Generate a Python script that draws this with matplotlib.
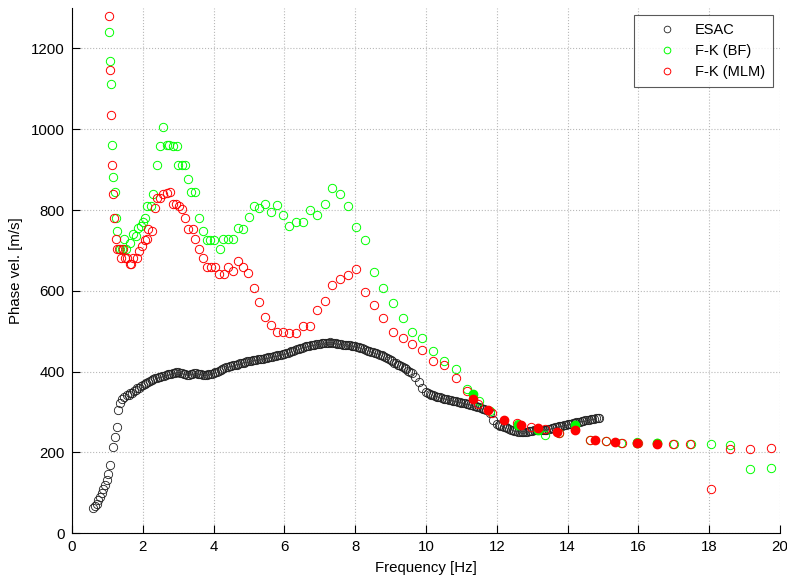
import matplotlib
matplotlib.use("Agg")
from matplotlib import pyplot as plt

# ESAC dispersion curve
esac_freq = [0.58, 0.65, 0.70, 0.74, 0.79, 0.84, 0.88, 0.93, 0.98, 1.03,
             1.07, 1.15, 1.21, 1.26, 1.31, 1.36, 1.40, 1.46, 1.54, 1.60,
             1.7, 1.8, 1.9, 2.0, 2.1, 2.2, 2.3, 2.4, 2.5, 2.6,
             2.7, 2.8, 2.9, 3.0, 3.1, 3.2, 3.3, 3.4, 3.5, 3.6,
             3.7, 3.8, 3.9, 4.0, 4.1, 4.2, 4.3, 4.4, 4.5, 4.6,
             4.7, 4.8, 4.9, 5.0, 5.1, 5.2, 5.3, 5.4, 5.5, 5.6,
             5.7, 5.8, 5.9, 6.0, 6.1, 6.2, 6.3, 6.4, 6.5, 6.6,
             6.7, 6.8, 6.9, 7.0, 7.1, 7.2, 7.3, 7.4, 7.5, 7.6,
             7.7, 7.8, 7.9, 8.0, 8.1, 8.2, 8.3, 8.4, 8.5, 8.6,
             8.7, 8.8, 8.9, 9.0, 9.1, 9.2, 9.3, 9.4, 9.5, 9.6,
             9.7, 9.8, 9.9, 10.0, 10.1, 10.2, 10.3, 10.4, 10.5, 10.6,
             10.7, 10.8, 10.9, 11.0, 11.1, 11.2, 11.3, 11.4, 11.5, 11.6,
             11.7, 11.8, 11.9, 12.0, 12.1, 12.2, 12.3, 12.4, 12.5, 12.6,
             12.7, 12.8, 12.9, 13.0, 13.1, 13.2, 13.3, 13.4, 13.5, 13.6,
             13.7, 13.8, 13.9, 14.0, 14.1, 14.2, 14.3, 14.4, 14.5, 14.6,
             14.7, 14.8, 14.9]
esac_vel = [61, 67, 73, 81, 90, 98, 108, 119, 131, 147,
            168, 213, 238, 262, 305, 322, 331, 337, 341, 343,
            348, 355, 360, 366, 372, 377, 381, 384, 387, 390,
            393, 395, 397, 398, 396, 393, 392, 395, 396, 394,
            392, 392, 393, 396, 400, 404, 408, 412, 414, 416,
            419, 421, 423, 426, 428, 429, 430, 432, 434, 436,
            438, 440, 442, 444, 447, 450, 453, 456, 459, 462,
            464, 466, 467, 469, 470, 471, 472, 471, 469, 467,
            466, 465, 464, 463, 460, 457, 454, 451, 448, 445,
            442, 438, 433, 428, 422, 417, 413, 408, 402, 396,
            386, 374, 360, 350, 345, 341, 338, 336, 333, 331,
            329, 327, 325, 323, 321, 319, 317, 314, 311, 308,
            304, 298, 280, 270, 266, 263, 261, 256, 253, 251,
            250, 251, 252, 253, 254, 255, 254, 256, 258, 261,
            263, 265, 267, 269, 271, 273, 275, 277, 279, 281,
            283, 284, 285]

# extra ESAC picks between the ones above (the curve is sampled densely)
esac_freq2 = [1.65, 1.75, 1.85, 1.95, 2.05, 2.15, 2.25, 2.35, 2.45, 2.55,
              2.65, 2.75, 2.85, 2.95, 3.05, 3.15, 3.25, 3.35, 3.45, 3.55,
              3.65, 3.75, 3.85, 3.95, 4.05, 4.15, 4.25, 4.35, 4.45, 4.55,
              4.65, 4.75, 4.85, 4.95, 5.05, 5.15, 5.25, 5.35, 5.45, 5.55,
              5.65, 5.75, 5.85, 5.95, 6.05, 6.15, 6.25, 6.35, 6.45, 6.55,
              6.65, 6.75, 6.85, 6.95, 7.05, 7.15, 7.25, 7.35, 7.45, 7.55,
              7.65, 7.75, 7.85, 7.95, 8.05, 8.15, 8.25, 8.35, 8.45, 8.55,
              8.65, 8.75, 8.85, 8.95, 9.05, 9.15, 9.25, 9.35, 9.45, 9.55,
              10.05, 10.15, 10.25, 10.35, 10.45, 10.55, 10.65, 10.75, 10.85, 10.95,
              11.05, 11.15, 11.25, 11.35, 11.45, 11.55, 11.65, 12.05, 12.15, 12.25,
              12.35, 12.45, 12.55, 12.65, 12.75, 12.85, 12.95, 13.05, 13.15, 13.25,
              13.35, 13.45, 13.55, 13.65, 13.75, 13.85, 13.95, 14.05, 14.15, 14.25,
              14.35, 14.45, 14.55, 14.65, 14.75, 14.85]
esac_vel2 = [346, 351, 358, 363, 369, 375, 379, 383, 386, 389,
             392, 394, 396, 398, 397, 394, 391, 394, 396, 395,
             393, 391, 393, 394, 398, 402, 406, 410, 413, 415,
             417, 420, 422, 425, 427, 428, 430, 431, 433, 435,
             437, 439, 441, 443, 445, 449, 452, 455, 458, 460,
             463, 465, 466, 468, 470, 470, 471, 471, 470, 468,
             466, 465, 465, 463, 461, 459, 455, 452, 449, 447,
             443, 440, 435, 430, 425, 420, 415, 410, 405, 399,
             347, 343, 339, 337, 334, 332, 330, 328, 326, 324,
             322, 320, 318, 315, 312, 309, 306, 268, 264, 262,
             258, 254, 252, 250, 250, 251, 252, 254, 254, 255,
             255, 257, 259, 262, 264, 266, 268, 270, 272, 274,
             276, 278, 280, 282, 283, 285]

# F-K (BF)
bf_freq = [1.045, 1.07, 1.10, 1.14, 1.17, 1.21, 1.23, 1.28, 1.36, 1.42,
           1.48, 1.53, 1.64, 1.73, 1.80, 1.87, 1.94, 2.00, 2.06, 2.13,
           2.22, 2.30, 2.39, 2.49, 2.58, 2.67, 2.75, 2.86, 2.96, 3.00,
           3.10, 3.19, 3.27, 3.36, 3.47, 3.60, 3.69, 3.80, 3.90, 4.01,
           4.18, 4.27, 4.42, 4.56, 4.70, 4.84, 5.00, 5.14, 5.29, 5.45,
           5.61, 5.80, 5.97, 6.14, 6.33, 6.52, 6.72, 6.91, 7.14, 7.34,
           7.57, 7.80, 8.02, 8.28, 8.53, 8.78, 9.06, 9.34, 9.61, 9.90,
           10.21, 10.52, 10.85, 11.15, 11.50, 11.81, 12.61, 13.36, 13.77, 14.63,
           15.10, 15.51, 15.95, 16.52, 17.00, 17.48, 18.04, 18.59, 19.15, 19.74]
bf_vel = [1242, 1168, 1112, 962, 881, 845, 779, 748, 703, 703,
          728, 703, 719, 740, 735, 756, 760, 771, 779, 811,
          811, 840, 912, 958, 1006, 962, 962, 958, 958, 912,
          912, 912, 878, 845, 845, 779, 748, 725, 725, 725,
          703, 729, 729, 729, 756, 754, 783, 811, 804, 816,
          796, 812, 788, 761, 770, 770, 800, 788, 814, 855,
          840, 811, 758, 725, 647, 606, 569, 532, 499, 483,
          452, 427, 405, 357, 326, 301, 270, 243, 247, 231,
          228, 224, 225, 222, 221, 221, 220, 217, 158, 161]

# F-K (MLM)
mlm_freq = [1.045, 1.07, 1.10, 1.14, 1.17, 1.19, 1.24, 1.28, 1.33, 1.38,
            1.44, 1.50, 1.56, 1.64, 1.68, 1.73, 1.83, 1.89, 1.97, 2.06,
            2.11, 2.16, 2.25, 2.34, 2.39, 2.49, 2.58, 2.67, 2.77, 2.84,
            2.94, 3.02, 3.11, 3.19, 3.29, 3.41, 3.47, 3.60, 3.69, 3.80,
            3.92, 4.04, 4.16, 4.29, 4.42, 4.56, 4.70, 4.82, 4.98, 5.14,
            5.29, 5.45, 5.61, 5.78, 5.97, 6.14, 6.33, 6.52, 6.72, 6.91,
            7.14, 7.34, 7.57, 7.80, 8.02, 8.28, 8.53, 8.78, 9.06, 9.34,
            9.61, 9.90, 10.21, 10.52, 10.85, 11.15, 11.48, 11.86, 12.56, 12.97,
            13.36, 13.77, 14.21, 14.63, 15.08, 15.53, 16.00, 16.99, 17.46, 18.04,
            18.59, 19.15, 19.74]
mlm_vel = [1281, 1147, 1036, 912, 840, 779, 729, 703, 703, 682,
           703, 682, 681, 666, 666, 682, 682, 699, 711, 725,
           728, 754, 748, 806, 830, 830, 840, 843, 845, 814,
           814, 811, 803, 779, 754, 754, 729, 703, 680, 658,
           658, 660, 641, 641, 658, 649, 674, 658, 643, 606,
           571, 534, 516, 497, 497, 495, 495, 512, 512, 553,
           575, 615, 630, 639, 655, 598, 565, 532, 499, 482,
           468, 454, 427, 416, 384, 351, 319, 298, 273, 263,
           258, 247, 257, 231, 228, 223, 224, 221, 220, 109,
           207, 207, 210]

# selected (filled) picks
bf_sel_freq = [11.34, 12.61, 13.17, 14.21, 15.95, 16.52]
bf_sel_vel = [345, 267, 254, 267, 224, 222]
mlm_sel_freq = [11.34, 11.76, 12.21, 12.68, 13.17, 13.69, 14.21, 14.77, 15.34, 15.95, 16.52]
mlm_sel_vel = [333, 304, 281, 268, 260, 250, 256, 230, 225, 223, 221]

plt.rcParams['font.family'] = ['Liberation Sans', 'DejaVu Sans']

fig = plt.figure(figsize=(7.87, 5.80), dpi=100)
ax = fig.add_axes([0.0915, 0.081, 0.8995, 0.905])

ms = 6.0
ax.plot(esac_freq, esac_vel, 'o', mfc='none', mec='#202020', mew=0.6, ms=ms, label='ESAC')
ax.plot(esac_freq2, esac_vel2, 'o', mfc='none', mec='#202020', mew=0.6, ms=ms)
ax.plot(bf_freq, bf_vel, 'o', mfc='none', mec='#00ff00', mew=0.7, ms=ms, label='F-K (BF)')
ax.plot(mlm_freq, mlm_vel, 'o', mfc='none', mec='#ff0000', mew=0.7, ms=ms, label='F-K (MLM)')
ax.plot(bf_sel_freq, bf_sel_vel, 'o', mfc='#00ff00', mec='#00ff00', ms=ms)
ax.plot(mlm_sel_freq, mlm_sel_vel, 'o', mfc='#ff0000', mec='#ff0000', ms=ms)

ax.set_xlim(0, 20)
ax.set_ylim(0, 1300)
ax.set_xticks(range(0, 21, 2))
ax.set_yticks(range(0, 1201, 200))
ax.set_xlabel('Frequency [Hz]', fontsize=10.8, labelpad=5)
ax.set_ylabel('Phase vel. [m/s]', fontsize=10.8, labelpad=6)
ax.tick_params(direction='in', length=6, width=0.8, labelsize=10.8, pad=5,
               top=False, right=False)
ax.spines['top'].set_visible(False)
ax.spines['right'].set_visible(False)
ax.grid(True, linestyle=':', color='#b8b8b8', linewidth=0.8)
ax.set_axisbelow(True)

leg = ax.legend(loc='upper right', fontsize=10.5, fancybox=False, edgecolor='#303030',
                borderaxespad=0.5, borderpad=0.5, handlelength=3.5, handletextpad=0.2,
                labelspacing=0.5, markerscale=0.8)
leg.get_frame().set_linewidth(0.8)

fig.savefig('out.png', dpi=100)
